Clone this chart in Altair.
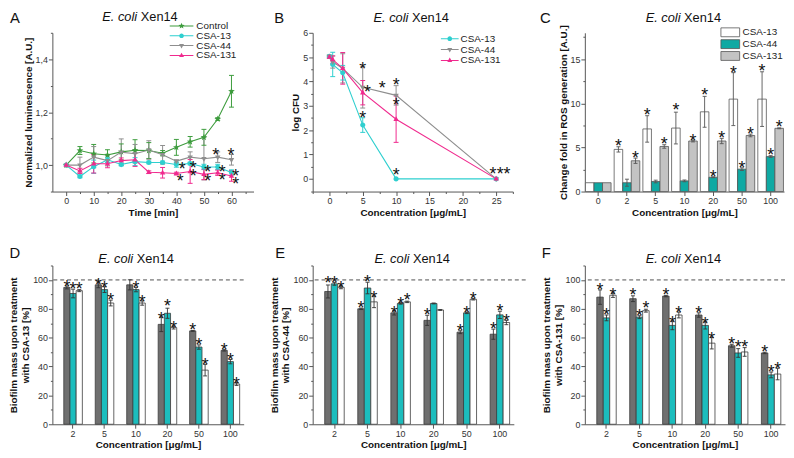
import math
import altair as alt
import pandas as pd

FONT = "Liberation Sans"
INK = "#111111"

# ---------------- Panel A : luminescence vs time ----------------
A_time = [0, 5, 10, 15, 20, 25, 30, 35, 40, 45, 50, 55, 60]
A_names = ["Control", "CSA-13", "CSA-44", "CSA-131"]
A_control = [1.000, 1.055, 1.043, 1.038, 1.050, 1.056, 1.055, 1.045, 1.067, 1.088, 1.105, 1.174, 1.279]
A_control_err = [0.000, 0.015, 0.035, 0.020, 0.030, 0.040, 0.030, 0.010, 0.030, 0.020, 0.030, 0.005, 0.060]
A_csa13 = [1.000, 0.957, 0.994, 1.020, 1.002, 1.013, 1.010, 1.010, 1.002, 1.006, 0.993, 0.993, 0.972]
A_csa13_err = [0.000, 0.005, 0.025, 0.010, 0.005, 0.015, 0.005, 0.005, 0.010, 0.005, 0.010, 0.010, 0.010]
A_csa44 = [1.000, 1.000, 1.030, 1.017, 1.049, 1.043, 1.057, 1.039, 1.015, 1.030, 1.024, 1.030, 1.020]
A_csa44_err = [0.000, 0.030, 0.040, 0.020, 0.050, 0.035, 0.035, 0.035, 0.005, 0.020, 0.080, 0.020, 0.020]
A_csa131 = [1.000, 0.978, 1.005, 1.005, 1.017, 1.020, 0.973, 0.971, 0.968, 0.976, 0.965, 0.971, 0.959]
A_csa131_err = [0.000, 0.010, 0.035, 0.015, 0.010, 0.025, 0.005, 0.020, 0.005, 0.045, 0.020, 0.010, 0.020]
A_star_x = [42.1, 41.4, 46.1, 46.1, 51.4, 51.4, 54.3, 56.6, 56.6, 59.8, 61.5, 61.5]
A_star_y = [1.000, 0.954, 1.005, 0.972, 0.990, 0.954, 1.051, 0.990, 0.960, 1.051, 0.972, 0.944]
A_xticks = [0, 5, 10, 15, 20, 25, 30, 35, 40, 45, 50, 55, 60, 65]
A_yticks = [0.9, 1.0, 1.1, 1.2, 1.3, 1.4, 1.5]

# ---------------- Panel B : log CFU vs concentration ----------------
B_conc = [0, 0.5, 2, 5, 10, 25]
B_names = ["CSA-13", "CSA-44", "CSA-131"]
B_csa13 = [5.03, 4.70, 4.36, 2.21, 0.00, 0.00]
B_csa13_err = [0.05, 0.50, 0.30, 0.30, 0.00, 0.00]
B_csa44 = [5.03, 4.80, 4.54, 3.76, 3.43, 0.00]
B_csa44_err = [0.05, 0.25, 0.60, 0.85, 0.40, 0.00]
B_csa131 = [5.00, 4.90, 4.54, 3.54, 2.45, 0.00]
B_csa131_err = [0.05, 0.15, 0.65, 0.50, 0.95, 0.00]
B_star_x = [5.0, 5.7, 7.9, 10.0, 10.0, 5.0, 10.0, 24.5, 25.6, 26.6]
B_star_y = [4.67, 3.72, 3.90, 4.03, 3.20, 2.67, 0.30, 0.37, 0.37, 0.37]
B_xticks = [-2.5, 0, 2.5, 5, 7.5, 10, 12.5, 15, 17.5, 20, 22.5, 25, 27.5]
B_yticks = [-0.5, 0, 0.5, 1, 1.5, 2, 2.5, 3, 3.5, 4, 4.5, 5, 5.5, 6]

# ---------------- Panel C : ROS generation ----------------
C_conc = ["0", "2", "5", "10", "20", "50", "100"]
C_names = ["CSA-13", "CSA-44", "CSA-131"]
C_csa13 = [1.00, 4.78, 7.10, 7.20, 9.04, 10.48, 10.48]
C_csa13_err = [0.00, 0.30, 1.50, 1.80, 1.75, 3.00, 3.10]
C_csa44 = [1.00, 1.00, 1.14, 1.21, 1.62, 2.54, 3.97]
C_csa44_err = [0.00, 0.40, 0.15, 0.10, 0.05, 0.15, 0.10]
C_csa131 = [1.00, 3.49, 5.11, 5.73, 5.73, 6.36, 7.17]
C_csa131_err = [0.00, 0.30, 0.20, 0.10, 0.30, 0.15, 0.05]
C_star_13_c = ["2", "5", "10", "20", "50", "100"]
C_star_13_y = [5.6, 9.1, 9.7, 11.4, 13.9, 14.1]
C_star_44_c = ["20", "50", "100"]
C_star_44_y = [2.13, 3.1, 4.6]
C_star_131_c = ["2", "5", "10", "20", "50", "100"]
C_star_131_y = [4.2, 5.8, 6.2, 6.5, 7.0, 7.8]
C_yticks = [0, 2.5, 5, 7.5, 10, 12.5, 15, 17.5]

# ---------------- Panels D, E, F : biofilm mass ----------------
BF_conc = ["2", "5", "10", "20", "50", "100"]
BF_names = ["dark", "teal", "white"]
BF_yticks = [0, 10, 20, 30, 40, 50, 60, 70, 80, 90, 100, 110]
REF_LEVEL = 100

D_dark = [94.8, 96.6, 96.6, 69.2, 64.7, 51.2]
D_dark_err = [1.0, 2.0, 3.5, 5.0, 0.3, 0.5]
D_teal = [90.6, 93.3, 93.3, 76.9, 53.5, 43.4]
D_teal_err = [3.0, 2.0, 1.5, 3.5, 1.5, 1.5]
D_white = [92.6, 84.0, 84.0, 67.0, 37.5, 27.9]
D_white_err = [0.7, 2.0, 1.5, 1.0, 4.0, 1.0]
D_star_dark_c = ["2", "5", "20", "50", "100"]
D_star_dark_y = [97.8, 99.3, 75.7, 67.9, 54.4]
D_star_teal_c = ["2", "5", "10", "20", "50", "100"]
D_star_teal_y = [96.6, 97.1, 97.1, 84.3, 57.3, 47.2]
D_star_white_c = ["2", "5", "10", "20", "50", "100"]
D_star_white_y = [96.6, 88.8, 87.2, 69.7, 43.8, 30.3]

E_dark = [92.0, 80.0, 77.2, 72.0, 63.8, 62.4]
E_dark_err = [4.5, 0.5, 1.5, 3.5, 1.0, 3.5]
E_teal = [97.3, 94.4, 83.7, 83.7, 77.2, 75.8]
E_teal_err = [1.0, 4.0, 0.5, 0.3, 0.5, 2.5]
E_white = [94.9, 84.8, 84.8, 79.2, 86.6, 70.5]
E_white_err = [1.0, 4.0, 0.5, 0.3, 0.5, 1.5]
E_star_dark_c = ["2", "5", "10", "20", "50", "100"]
E_star_dark_y = [100.7, 83.2, 79.9, 78.7, 67.6, 68.7]
E_star_teal_c = ["2", "5", "10", "50", "100"]
E_star_teal_y = [100.7, 101.1, 85.9, 79.9, 81.4]
E_star_white_c = ["2", "5", "10", "50", "100"]
E_star_white_y = [97.1, 89.9, 88.8, 89.5, 74.3]

F_dark = [88.1, 87.0, 88.8, 75.7, 54.4, 49.4]
F_dark_err = [5.0, 2.0, 0.5, 1.5, 1.0, 0.5]
F_teal = [73.7, 74.2, 68.5, 68.5, 49.4, 34.2]
F_teal_err = [2.0, 1.0, 3.0, 2.5, 3.0, 2.0]
F_white = [89.4, 78.7, 75.7, 56.2, 50.1, 34.8]
F_white_err = [1.5, 1.0, 2.0, 4.0, 3.0, 4.0]
F_star_dark_c = ["2", "5", "10", "20", "50", "100"]
F_star_dark_y = [95.5, 92.1, 92.1, 79.8, 58.4, 52.8]
F_star_teal_c = ["2", "5", "10", "20", "50", "100"]
F_star_teal_y = [78.7, 77.5, 73.0, 72.4, 56.2, 38.7]
F_star_white_c = ["2", "5", "10", "20", "50", "100"]
F_star_white_y = [92.1, 83.1, 79.8, 61.8, 56.2, 41.1]

# ---------------- colours ----------------
GREEN, CYAN, GREY, PINK = "#3d9c3d", "#2ecfcf", "#8e8e8e", "#f02a8e"
C_FILLS = ["#ffffff", "#0fa9a3", "#c3c3c3"]
BF_FILLS = ["#6f6f6f", "#1cbdbd", "#ffffff"]


# ---------------- symbol paths ----------------
def star_path(R, k=0.42):
    pts = []
    for i in range(10):
        ang = math.radians(-90 + 36 * i)
        rad = R if i % 2 == 0 else R * k
        pts.append("%.3f,%.3f" % (rad * math.cos(ang), rad * math.sin(ang)))
    return "M" + "L".join(pts) + "Z"


def circle_path(r):
    return "M%.3f,0A%.3f,%.3f 0 1,1 %.3f,0A%.3f,%.3f 0 1,1 %.3f,0Z" % (r, r, r, -r, r, r, r)


def tri_up_path(s):
    return "M0,%.3fL%.3f,%.3fL%.3f,%.3fZ" % (-s, 0.87 * s, 0.55 * s, -0.87 * s, 0.55 * s)


def tri_down_path(s):
    return "M0,%.3fL%.3f,%.3fL%.3f,%.3fZ" % (s, -0.87 * s, -0.55 * s, 0.87 * s, -0.55 * s)


def line_path(half, t=0.1):
    return "M%.2f,%.2fH%.2fV%.2fH%.2fZ" % (-half, -t, half, t, -half)


def marker(kind, scale):
    if kind == "star":
        return star_path(1.3 * scale)
    if kind == "circle":
        return circle_path(0.95 * scale)
    if kind == "up":
        return tri_up_path(1.15 * scale)
    return tri_down_path(1.15 * scale)


def legend_symbol(kind, half):
    return line_path(half) + " " + marker(kind, 0.5)


INT_FMT = "format(datum.value, '.0f')"
COMMA = "replace(format(datum.value, '.1f'), '.', ',')"


def minor_axis(values, major_test, title, fmt_expr=INT_FMT):
    """Axis with labelled major ticks and short unlabelled minor ticks."""
    return alt.Axis(
        values=values, title=title,
        labelExpr="(%s) ? %s : ''" % (major_test, fmt_expr),
        tickSize={"condition": {"test": major_test, "value": 4}, "value": 2},
    )


def text_layer(text, x, y, size, italic=False, align="center", weight="normal"):
    return alt.Chart(pd.DataFrame({"k": [0]})).mark_text(
        text=text, font=FONT, fontSize=size, fontStyle="italic" if italic else "normal",
        fontWeight=weight, align=align, baseline="middle", color=INK,
    ).encode(x=alt.value(x), y=alt.value(y))


def decorations(letter, letter_x, letter_y, split_x, title_y):
    return [
        text_layer("E. coli", split_x, title_y, 13, italic=True, align="right"),
        text_layer("Xen14", split_x + 3.6, title_y, 13, align="left"),
        text_layer(letter, letter_x, letter_y, 15),
    ]


def line_panel(xs, names, series, errs, colors, kinds, star_x, star_y, *, width, height,
               xdom, xaxis, ydom, yaxis, leg_x, leg_y, leg_half, leg_off,
               leg_pad, letter, letter_x, letter_y, split_x, title_y, xrange_px=0):
    rows = []
    for name, vals, es in zip(names, series, errs):
        for x, v, e in zip(xs, vals, es):
            rows.append(dict(x=x, s=name, v=v, lo=v - e, hi=v + e))
    df = pd.DataFrame(rows)
    xsc = dict(domain=xdom, nice=False, zero=False)
    if xrange_px:
        xsc["range"] = [0, xrange_px]
    xscale = alt.Scale(**xsc)
    yscale = alt.Scale(domain=ydom, nice=False, zero=False)
    X = alt.X("x:Q", scale=xscale, axis=xaxis)

    def Y(f):
        return alt.Y(f + ":Q", scale=yscale, axis=yaxis)

    cs = alt.Scale(domain=names, range=colors)
    col = alt.Color("s:N", scale=cs, legend=None)
    base = alt.Chart(df)
    eb = base.transform_filter("datum.hi > datum.lo")
    err = eb.mark_rule(strokeWidth=1).encode(x=X, y=Y("lo"), y2="hi:Q", color=col)
    cap_lo = eb.mark_point(shape="stroke", size=25, strokeWidth=1, opacity=1).encode(x=X, y=Y("lo"), color=col)
    cap_hi = eb.mark_point(shape="stroke", size=25, strokeWidth=1, opacity=1).encode(x=X, y=Y("hi"), color=col)
    line = base.mark_line(strokeWidth=1.1).encode(x=X, y=Y("v"), color=col)
    pts = base.mark_point(filled=True, size=30, opacity=1).encode(
        x=X, y=Y("v"), color=col,
        shape=alt.Shape("s:N", scale=alt.Scale(domain=names, range=[marker(k, 1) for k in kinds]), legend=None))
    leg = alt.Legend(title=None, orient="none", legendX=leg_x, legendY=leg_y, symbolSize=100,
                     labelOffset=leg_off, rowPadding=leg_pad, labelFont=FONT, labelFontSize=10,
                     labelColor="#222", symbolStrokeWidth=0, padding=0)
    legend_layer = base.transform_filter("datum.x < -1000").mark_point(filled=True, size=100, opacity=1).encode(
        x=X, y=Y("v"),
        color=alt.Color("s:N", scale=cs, legend=leg),
        shape=alt.Shape("s:N", scale=alt.Scale(domain=names, range=[legend_symbol(k, leg_half) for k in kinds]),
                        legend=leg))
    stars = alt.Chart(pd.DataFrame({"x": star_x, "v": star_y})).mark_text(
        text="*", font=FONT, fontSize=18, color=INK, baseline="alphabetic", dy=10).encode(x=X, y=Y("v"))
    layers = [err, cap_lo, cap_hi, line, pts, legend_layer, stars] + decorations(letter, letter_x, letter_y, split_x, title_y)
    return alt.layer(*layers).resolve_scale(color="independent", shape="independent").properties(
        width=width, height=height)


def bar_panel(cats, names, series, errs, fills, stroke, star_sets, *, width, height, pin, pout, palign,
              ydom, yaxis, xtitle, letter, letter_x, letter_y, split_x, title_y,
              xrange_px=0, legend=None, ref=None, errcolor="#333"):
    rows = []
    for name, vals, es in zip(names, series, errs):
        for c, v, e in zip(cats, vals, es):
            rows.append(dict(c=c, s=name, v=v, lo=v - e, hi=v + e))
    df = pd.DataFrame(rows)
    xsc = dict(domain=cats, paddingInner=pin, paddingOuter=pout, align=palign)
    if xrange_px:
        xsc["range"] = [0, xrange_px]
    X = alt.X("c:N", sort=cats, scale=alt.Scale(**xsc), axis=alt.Axis(title=xtitle, labelAngle=0, tickSize=4))
    XO = alt.XOffset("s:N", sort=names, scale=alt.Scale(domain=names, paddingInner=0, paddingOuter=0))
    yscale = alt.Scale(domain=ydom, nice=False, zero=False)

    def Y(f):
        return alt.Y(f + ":Q", scale=yscale, axis=yaxis)

    base = alt.Chart(df)
    fill_kw = dict(scale=alt.Scale(domain=names, range=fills))
    fill_kw["legend"] = legend if legend is not None else None
    bars = base.mark_bar(stroke=stroke, strokeWidth=0.8).encode(x=X, xOffset=XO, y=Y("v"), fill=alt.Fill("s:N", **fill_kw))
    eb = base.transform_filter("datum.hi > datum.lo")
    err = eb.mark_rule(color=errcolor, strokeWidth=0.9).encode(x=X, xOffset=XO, y=Y("lo"), y2="hi:Q")
    cap_lo = eb.mark_point(shape="stroke", size=16, strokeWidth=0.9, color=errcolor, opacity=1).encode(
        x=X, xOffset=XO, y=Y("lo"))
    cap_hi = eb.mark_point(shape="stroke", size=16, strokeWidth=0.9, color=errcolor, opacity=1).encode(
        x=X, xOffset=XO, y=Y("hi"))
    srows = []
    for name, cs_, ys_ in star_sets:
        for c, y in zip(cs_, ys_):
            srows.append(dict(c=c, s=name, v=y))
    stars = alt.Chart(pd.DataFrame(srows)).mark_text(
        text="*", font=FONT, fontSize=18, color=INK, baseline="alphabetic", dy=10).encode(x=X, xOffset=XO, y=Y("v"))
    layers = [bars, err, cap_lo, cap_hi, stars]
    if ref is not None:
        layers.insert(0, alt.Chart(pd.DataFrame({"r": [ref]})).mark_rule(
            strokeDash=[4, 3], color="#222", strokeWidth=0.8).encode(y=Y("r")))
    layers += decorations(letter, letter_x, letter_y, split_x, title_y)
    return alt.layer(*layers).properties(width=width, height=height)


H = 161
TOP_TITLE_Y = -15
BOT_TITLE_Y = -7
BOT_LETTER_Y = -13

panel_a = line_panel(
    A_time, A_names, [A_control, A_csa13, A_csa44, A_csa131],
    [A_control_err, A_csa13_err, A_csa44_err, A_csa131_err],
    [GREEN, CYAN, GREY, PINK], ["star", "circle", "down", "up"], A_star_x, A_star_y,
    width=204, height=H, xdom=[-5, 68],
    xaxis=minor_axis(A_xticks, "datum.value % 10 == 0", "Time [min]"),
    ydom=[0.9, 1.5],
    yaxis=minor_axis(A_yticks, "round(datum.value * 10) % 2 == 0 && datum.value > 0.95",
                     "Normalized luminescence [A.U.]", COMMA),
    leg_x=126, leg_y=-12, leg_half=2.4, leg_off=10, leg_pad=0,
    letter="A", letter_x=-38, letter_y=TOP_TITLE_Y, split_x=86, title_y=TOP_TITLE_Y - 1)

panel_b = line_panel(
    B_conc, B_names, [B_csa13, B_csa44, B_csa131], [B_csa13_err, B_csa44_err, B_csa131_err],
    [CYAN, GREY, PINK], ["circle", "down", "up"], B_star_x, B_star_y,
    width=216, xrange_px=203, height=H, xdom=[-2.5, 27.5],
    xaxis=minor_axis(B_xticks, "datum.value >= 0 && datum.value % 5 == 0", "Concentration [μg/mL]"),
    ydom=[-0.52, 6],
    yaxis=minor_axis(B_yticks, "datum.value >= 0 && datum.value % 1 == 0", "log CFU"),
    leg_x=134, leg_y=1, leg_half=1.8, leg_off=6, leg_pad=1,
    letter="B", letter_x=-34, letter_y=TOP_TITLE_Y, split_x=97, title_y=TOP_TITLE_Y)

c_legend = alt.Legend(title=None, orient="none", legendX=142, legendY=-6, symbolSize=100,
                      symbolType="M-1.9,-0.9H1.9V0.9H-1.9Z", symbolStrokeColor="#555",
                      symbolStrokeWidth=0.8, labelOffset=7, rowPadding=-2, labelFont=FONT,
                      labelFontSize=10, labelColor="#222", padding=0)
panel_c = bar_panel(
    C_conc, C_names, [C_csa13, C_csa44, C_csa131], [C_csa13_err, C_csa44_err, C_csa131_err],
    C_FILLS, "#555555",
    [("CSA-13", C_star_13_c, C_star_13_y), ("CSA-44", C_star_44_c, C_star_44_y),
     ("CSA-131", C_star_131_c, C_star_131_y)],
    width=202, height=H, pin=0.107, pout=0.02, palign=0.5, ydom=[0, 18],
    yaxis=minor_axis(C_yticks, "datum.value % 5 == 0", "Change fold in ROS generation [A.U.]"),
    xtitle="Concentration [μg/mL]",
    letter="C", letter_x=-40, letter_y=TOP_TITLE_Y, split_x=97, title_y=TOP_TITLE_Y,
    legend=c_legend, errcolor="#555")


def biofilm(letter, agent, vals, errs, stars, width, letter_x, split_x, xrange_px=0):
    kw = dict(xrange_px=xrange_px) if xrange_px else {}
    return bar_panel(
        BF_conc, BF_names, vals, errs, BF_FILLS, "#3c3c3c",
        [(n, c, y) for n, (c, y) in zip(BF_names, stars)],
        width=width, height=H, pin=0.41, pout=0.245, palign=0.74, ydom=[0, 110],
        yaxis=minor_axis(BF_yticks, "datum.value % 20 == 0 && datum.value <= 100",
                         ["Biofilm mass upon treatment", "with %s [%%]" % agent]),
        xtitle="Concentration  [μg/mL]",
        letter=letter, letter_x=letter_x, letter_y=BOT_LETTER_Y, split_x=split_x, title_y=BOT_TITLE_Y,
        ref=REF_LEVEL, **kw)


panel_d = biofilm("D", "CSA-13", [D_dark, D_teal, D_white], [D_dark_err, D_teal_err, D_white_err],
                  [(D_star_dark_c, D_star_dark_y), (D_star_teal_c, D_star_teal_y), (D_star_white_c, D_star_white_y)],
                  194, -38, 82)
panel_e = biofilm("E", "CSA-44", [E_dark, E_teal, E_white], [E_dark_err, E_teal_err, E_white_err],
                  [(E_star_dark_c, E_star_dark_y), (E_star_teal_c, E_star_teal_y), (E_star_white_c, E_star_white_y)],
                  216, -33, 98, xrange_px=204)
panel_f = biofilm("F", "CSA-131", [F_dark, F_teal, F_white], [F_dark_err, F_teal_err, F_white_err],
                  [(F_star_dark_c, F_star_dark_y), (F_star_teal_c, F_star_teal_y), (F_star_white_c, F_star_white_y)],
                  203, -39, 97)

chart = alt.concat(
    panel_a, panel_b, panel_c, panel_d, panel_e, panel_f,
    columns=3, spacing={"row": 75, "column": 60}, bounds="flush", align="each",
).resolve_scale(
    color="independent", shape="independent", fill="independent", xOffset="independent"
).resolve_legend(
    color="independent", shape="independent", fill="independent"
).properties(
    padding={"left": 0, "top": 0, "right": 0, "bottom": 0}
).configure_view(stroke=None).configure_axis(
    domainColor="#555555", tickColor="#555555", labelColor="#333333", labelFont=FONT, labelFontSize=9,
    titleFont=FONT, titleFontSize=10, titleFontWeight="bold", titleColor=INK, grid=False,
    labelPadding=1, titlePadding=2, domainWidth=1, tickWidth=1,
)

chart.save("out.html", embed_options={"renderer": "svg", "actions": False})
